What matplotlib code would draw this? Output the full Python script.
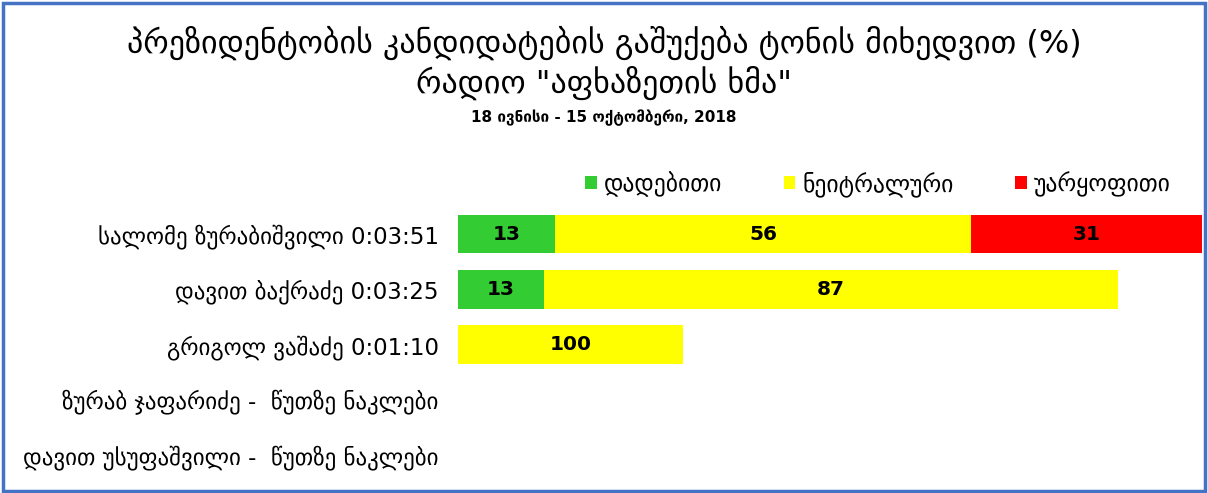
import numpy as np
import matplotlib
matplotlib.use("Agg")
from matplotlib import pyplot as plt
from matplotlib.patches import Rectangle

plt.rcParams['font.family'] = ['DejaVu Sans']

### Data ###
candidates = ["სალომე ზურაბიშვილი 0:03:51",
              "დავით ბაქრაძე 0:03:25",
              "გრიგოლ ვაშაძე 0:01:10",
              "ზურაბ ჯაფარიძე -  წუთზე ნაკლები",
              "დავით უსუფაშვილი -  წუთზე ნაკლები"]
airtime_sec = np.array([231, 205, 70, 0, 0])
positive = np.array([13, 13, 0, 0, 0])
neutral = np.array([56, 87, 100, 0, 0])
negative = np.array([31, 0, 0, 0, 0])
series_names = ["დადებითი", "ნეიტრალური", "უარყოფითი"]
colors = ["#33CC33", "#FFFF00", "#FF0000"]

title1 = "პრეზიდენტობის კანდიდატების გაშუქება ტონის მიხედვით (%)"
title2 = 'რადიო "აფხაზეთის ხმა"'
title3 = "18 ივნისი - 15 ოქტომბერი, 2018"

W, H = 1208, 493
fig = plt.figure(figsize=(W / 100, H / 100), dpi=100)

# axes placed in pixel coords of the reference
left, right = 458, 1202
top, bottom = 206.5, 482.5
ax = fig.add_axes([left / W, 1 - bottom / H, (right - left) / W, (bottom - top) / H])

y = np.arange(len(candidates))
start = np.zeros(len(candidates))
for vals, col, name in zip([positive, neutral, negative], colors, series_names):
    widths = vals / 100 * airtime_sec
    bars = ax.barh(y, widths, left=start, height=0.7, color=col, label=name)
    for i, b in enumerate(bars):
        if vals[i] > 0:
            ax.text(start[i] + widths[i] / 2, y[i], str(vals[i]), ha='center', va='center',
                    fontsize=14.5, fontweight='bold', color='black')
    start = start + widths

ax.set_xlim(0, airtime_sec.max())
ax.set_ylim(len(candidates) - 0.5, -0.5)
ax.set_yticks(y)
ax.set_yticklabels(candidates, fontsize=16.5)
ax.tick_params(axis='y', length=0, pad=14)
ax.set_xticks([])
for s in ax.spines.values():
    s.set_visible(False)

# titles
fig.text(0.5, 1 - 43 / H, title1, ha='center', va='center', fontsize=23)
fig.text(0.5, 1 - 83 / H, title2, ha='center', va='center', fontsize=23)
fig.text(0.5, 1 - 118 / H, title3, ha='center', va='center', fontsize=11, fontweight='bold')

# legend
ax.legend(loc='center', bbox_to_anchor=(878 / W, 1 - 184 / H), bbox_transform=fig.transFigure,
          ncol=3, frameon=False, fontsize=17, handlelength=0.5, handleheight=0.5,
          handletextpad=0.3, columnspacing=2.6)

# outer border
fig.patches.append(Rectangle((3 / W, 2 / H), (W - 6) / W, (H - 5) / H, transform=fig.transFigure,
                             fill=False, edgecolor='#4472C4', linewidth=2.5))

fig.savefig("out.png", dpi=100)
